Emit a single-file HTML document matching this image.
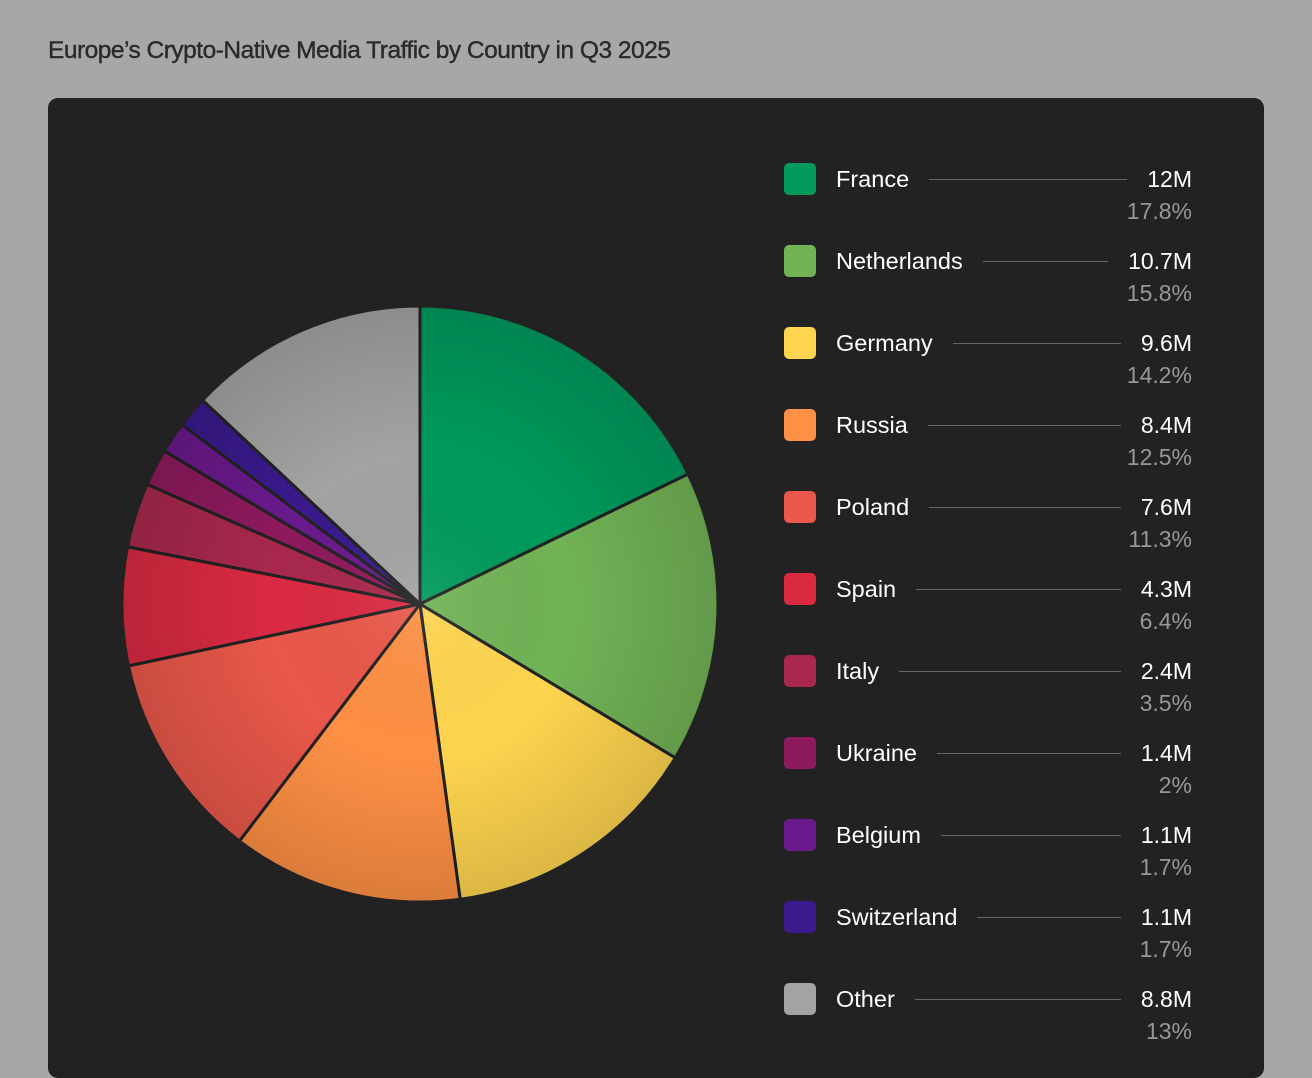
<!DOCTYPE html>
<html><head><meta charset="utf-8"><style>
body{margin:0;width:1312px;height:1060px;background:#a7a7a7;font-family:"Liberation Sans",sans-serif;overflow:hidden;position:relative}
#title{position:absolute;left:48px;top:37px;font-size:24.5px;color:#2a2a2a;letter-spacing:-0.5px;-webkit-text-stroke:0.4px #2a2a2a}
#card{position:absolute;left:48px;top:98px;width:1216px;height:980px;background:#222;border-radius:10px}
svg{position:absolute;left:0;top:0}
.row{position:absolute;left:784px;width:408px;height:70px}
.sw{position:absolute;left:0;top:0;width:32px;height:32px;border-radius:5px}
.nm{position:absolute;left:52px;top:3px;font-size:23.5px;color:#fff}
.ln{position:absolute;top:16px;height:1px;background:#666}
.val{position:absolute;right:0;top:3px;font-size:23px;color:#fff}
.pct{position:absolute;right:0;top:35px;font-size:23px;color:#979797}
</style></head><body>
<div id="title">Europe’s Crypto-Native Media Traffic by Country in Q3 2025</div>
<div id="card"></div>
<svg id="pie" width="1312" height="1060"><defs id="defs"></defs></svg>
<div id="legend"></div>
<script>
const categories=["France","Netherlands","Germany","Russia","Poland","Spain","Italy","Ukraine","Belgium","Switzerland","Other"];
const values=["12M","10.7M","9.6M","8.4M","7.6M","4.3M","2.4M","1.4M","1.1M","1.1M","8.8M"];
const percents=[17.8,15.8,14.2,12.5,11.3,6.4,3.5,2,1.7,1.7,13];
const colors=["#009a5e","#72b356","#ffd54f","#ff9045","#e9584a","#d92a42","#a8284d","#8e1a5e","#6a1a8c","#3a1a8c","#a3a3a3"];
const NS="http://www.w3.org/2000/svg";
const cx=420,cy=604,R=298;
const svg=document.getElementById('pie'),defs=document.getElementById('defs');
const total=percents.reduce((a,b)=>a+b,0);
function ang(v){return v/total*Math.PI*2;}
function pt(a,r){return [cx+r*Math.sin(a),cy-r*Math.cos(a)];}
let a0=0;
percents.forEach((p,i)=>{
  const a1=a0+ang(p);
  const [x0,y0]=pt(a0,R),[x1,y1]=pt(a1,R);
  const path=document.createElementNS(NS,'path');
  path.setAttribute('d',`M${cx},${cy}L${x0},${y0}A${R},${R} 0 ${a1-a0>Math.PI?1:0} 1 ${x1},${y1}Z`);
  path.setAttribute('fill',colors[i]);
  path.setAttribute('stroke','#222');path.setAttribute('stroke-width','3');path.setAttribute('stroke-linejoin','round');
  
  
  svg.appendChild(path);
  a0=a1;
});
const sh=document.createElementNS(NS,'radialGradient');sh.setAttribute('id','shade');sh.setAttribute('cx',cx);sh.setAttribute('cy',cy);sh.setAttribute('r',R);sh.setAttribute('gradientUnits','userSpaceOnUse');
sh.innerHTML='<stop offset="0" stop-color="#fff" stop-opacity="0.08"/><stop offset="0.5" stop-color="#000" stop-opacity="0"/><stop offset="1" stop-color="#000" stop-opacity="0.14"/>';
defs.appendChild(sh);
const ov=document.createElementNS(NS,'circle');ov.setAttribute('cx',cx);ov.setAttribute('cy',cy);ov.setAttribute('r',R-1.5);ov.setAttribute('fill','url(#shade)');ov.setAttribute('pointer-events','none');


svg.appendChild(ov);
const leg=document.getElementById('legend');
categories.forEach((c,i)=>{
  const r=document.createElement('div');r.className='row';r.style.top=(163+i*82)+'px';
  
  
  r.innerHTML=`<div class="sw" style="background:${colors[i]}"></div><span class="nm">${c}</span><div class="ln"></div><span class="val">${values[i]}</span><span class="pct">${percents[i]}%</span>`;
  leg.appendChild(r);
  const nm=r.querySelector('.nm'),vl=r.querySelector('.val'),ln=r.querySelector('.ln');
  const l=52+nm.offsetWidth+20,rr=408-vl.offsetWidth-20;
  ln.style.left=l+'px';ln.style.width=(rr-l)+'px';
});
</script>
</body></html>
